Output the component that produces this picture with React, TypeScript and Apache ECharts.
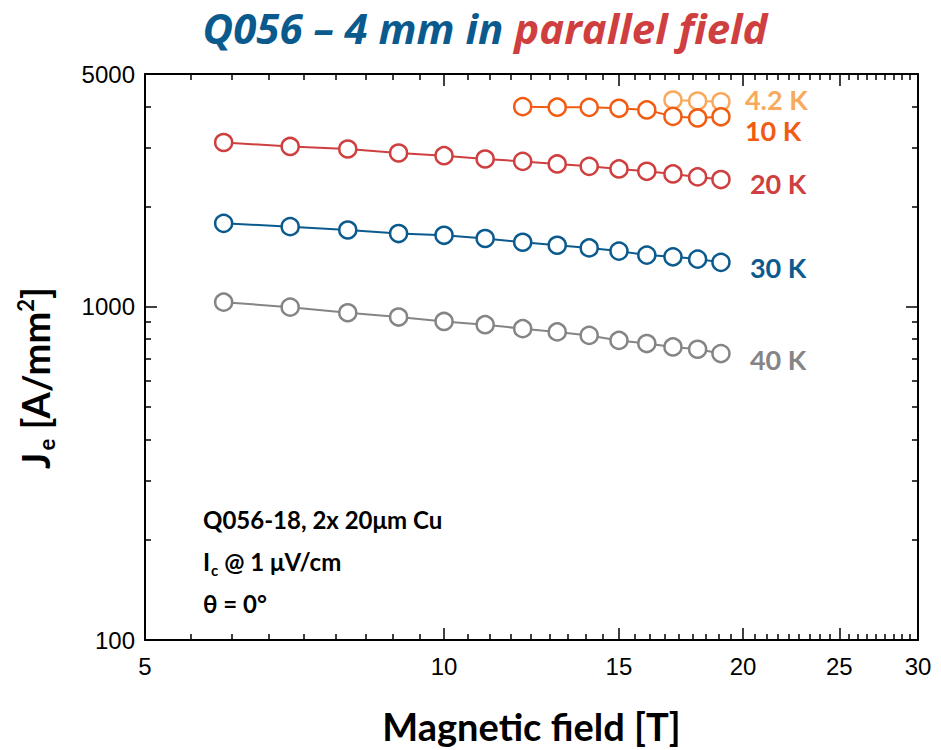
import React, { useEffect, useRef } from "react";
import * as echarts from "echarts";

// Magnetic field [T]
const field = [6, 7, 8, 9, 10, 11, 12, 13, 14, 15, 16, 17, 18, 19];
const field10K = [12, 13, 14, 15, 16, 17, 18, 19];
const field42K = [17, 18, 19];

// Je [A/mm^2]
const je42K = [4177, 4148, 4128];
const je10K = [3990, 3975, 3970, 3945, 3900, 3730, 3690, 3720];
const je20K = [3114, 3030, 2977, 2896, 2843, 2779, 2733, 2685, 2641, 2594, 2552, 2506, 2455, 2411];
const je30K = [1781, 1741, 1701, 1660, 1640, 1604, 1563, 1531, 1503, 1470, 1430, 1413, 1391, 1360];
const je40K = [1033, 998, 960, 932, 904, 884, 860, 841, 821, 793, 776, 758, 746, 724];

// ticks
const xMajorTicks = [5, 10, 15, 20, 25, 30];
const xMinorPerStep = 8;
const yMajorTicks = [100, 1000, 5000];
const yMinorTicks = [200, 300, 400, 500, 600, 700, 800, 900, 2000, 3000, 4000];

const seriesNames = ["4.2 K", "10 K", "20 K", "30 K", "40 K"];
const seriesColors = ["#F9A95B", "#F25C12", "#CF3F3F", "#0B5A8E", "#858585"];

const lg = Math.log10;
const FONT = "Lato, 'Open Sans', sans-serif";
const TITLEFONT = "'Open Sans', Lato, sans-serif";
const TICKFONT = "'Liberation Sans', Arial, sans-serif";

const xMinorTicks: number[] = [];
for (let i = 0; i < xMajorTicks.length - 1; i++) {
  const a = xMajorTicks[i];
  const b = xMajorTicks[i + 1];
  for (let k = 1; k <= xMinorPerStep; k++) {
    xMinorTicks.push(a + ((b - a) * k) / (xMinorPerStep + 1));
  }
}

export default function App() {
  const ref = useRef<HTMLDivElement>(null);
  useEffect(() => {
    document.body.style.margin = "0";
    const chart = echarts.init(ref.current!, null, { renderer: "svg" });

    const fmt = (v: number) => String(Math.round(Math.pow(10, v)));
    const xMin = lg(xMajorTicks[0]);
    const xMax = lg(xMajorTicks[xMajorTicks.length - 1]);
    const yMin = lg(yMajorTicks[0]);
    const yMax = lg(yMajorTicks[yMajorTicks.length - 1]);

    const mkX = (position: string, major: boolean, extra: any = {}) => ({
      type: "value",
      position,
      min: xMin,
      max: xMax,
      splitLine: { show: false },
      axisLine: { show: major, onZero: false, lineStyle: { color: "#000", width: 2 } },
      axisTick: {
        show: true,
        inside: true,
        length: major ? 12 : 6,
        lineStyle: { color: "#000", width: 1.5 },
        customValues: (major ? xMajorTicks : xMinorTicks).map(lg),
      },
      axisLabel: { show: false },
      ...extra,
    });
    const mkY = (position: string, major: boolean, extra: any = {}) => ({
      type: "value",
      position,
      min: yMin,
      max: yMax,
      splitLine: { show: false },
      axisLine: { show: major, onZero: false, lineStyle: { color: "#000", width: 2 } },
      axisTick: {
        show: true,
        inside: true,
        length: major ? 12 : 6,
        lineStyle: { color: "#000", width: 1.5 },
        customValues: (major ? yMajorTicks : yMinorTicks).map(lg),
      },
      axisLabel: { show: false },
      ...extra,
    });

    const dataSets = [
      [field42K, je42K],
      [field10K, je10K],
      [field, je20K],
      [field, je30K],
      [field, je40K],
    ];
    const labelOffsets = [
      [24, -2],
      [24, 14],
      [29, 4],
      [29, 5],
      [29, 6],
    ];

    const series = dataSets.map(([xs, ys], i) => ({
      type: "line",
      name: seriesNames[i],
      xAxisIndex: 0,
      yAxisIndex: 0,
      data: xs.map((x, j) => [lg(x), lg(ys[j])]),
      symbol: "circle",
      symbolSize: 17,
      showSymbol: true,
      z: 2 + i,
      lineStyle: { color: seriesColors[i], width: 2 },
      itemStyle: { color: "#fff", borderColor: seriesColors[i], borderWidth: 2.5 },
      endLabel: {
        show: true,
        formatter: seriesNames[i],
        color: seriesColors[i],
        fontSize: 27,
        lineHeight: 24,
        fontWeight: "bold",
        fontFamily: FONT,
        distance: 0,
        offset: labelOffsets[i],
      },
      emphasis: { disabled: true },
    }));

    chart.setOption({
      animation: false,
      backgroundColor: "#fff",
      title: {
        text: "{a|Q056 – 4 mm in }{b|parallel field}",
        left: 480,
        textAlign: "center",
        top: 1,
        textStyle: {
          rich: {
            a: { color: "#0B5A8E", fontSize: 42, fontWeight: "bold", fontStyle: "italic", fontFamily: TITLEFONT },
            b: { color: "#CF3F3F", fontSize: 42, fontWeight: "bold", fontStyle: "italic", fontFamily: TITLEFONT },
          },
        },
      },
      grid: { left: 145, right: 23, top: 74, bottom: 107, containLabel: false },
      xAxis: [
        mkX("bottom", true, {
          axisLabel: {
            show: true,
            customValues: xMajorTicks.map(lg),
            formatter: fmt,
            fontSize: 24,
            color: "#000",
            fontFamily: TICKFONT,
            margin: 14,
            showMinLabel: true,
            showMaxLabel: true,
          },
          name: "Magnetic field [T]",
          nameLocation: "middle",
          nameGap: 67,
          nameTextStyle: { fontSize: 38, fontWeight: "bold", color: "#000", fontFamily: FONT },
        }),
        mkX("bottom", false),
        mkX("top", true),
        mkX("top", false),
      ],
      yAxis: [
        mkY("left", true, {
          axisLabel: {
            show: true,
            customValues: yMajorTicks.map(lg),
            formatter: fmt,
            fontSize: 24,
            color: "#000",
            fontFamily: TICKFONT,
            margin: 10,
            showMinLabel: true,
            showMaxLabel: true,
          },
          name: "{j|J}{e|e}{t| [A/mm}{p|2}{z|]}",
          nameLocation: "middle",
          nameRotate: 90,
          nameGap: 88,
          nameTextStyle: {
            rich: {
              j: { fontSize: 38, fontWeight: "bold", color: "#000", fontFamily: FONT },
              t: { fontSize: 38, fontWeight: "bold", color: "#000", fontFamily: FONT },
              z: { fontSize: 38, fontWeight: "bold", color: "#000", fontFamily: FONT, padding: [0, 42, 0, 0] },
              e: { fontSize: 22, fontWeight: "bold", color: "#000", fontFamily: FONT, padding: [22, 0, 0, 2] },
              p: { fontSize: 22, fontWeight: "bold", color: "#000", fontFamily: FONT, padding: [0, 0, 20, 0] },
            },
          },
        }),
        mkY("left", false),
        mkY("right", true),
        mkY("right", false),
      ],
      graphic: [
        {
          type: "text",
          left: 203,
          top: 507,
          style: {
            text: "{b|Q056-18, 2x 20μm Cu}\n{b|I}{s|c}{b| @ 1 μV/cm}\n{b|θ = 0°}",
            rich: {
              b: { fontSize: 24, fontWeight: "bold", fill: "#000", fontFamily: FONT, lineHeight: 42 },
              s: { fontSize: 15, fontWeight: "bold", fill: "#000", fontFamily: FONT, lineHeight: 42, padding: [18, 0, 0, 1] },
            },
          },
        },
      ],
      series,
    });
    return () => chart.dispose();
  }, []);
  return <div ref={ref} style={{ width: 941, height: 750 }} />;
}
